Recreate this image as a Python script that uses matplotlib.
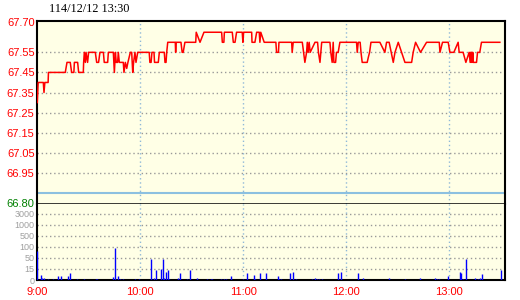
import matplotlib
matplotlib.use('Agg')
import matplotlib.pyplot as plt
import numpy as np

# minutes after 9:00 and price at that point (step-like trace)
price_t = [0, 0.5, 3.5, 3.9, 4.4, 6.3, 6.5, 16.3, 17.3, 19.2, 20.0, 21.3, 21.6, 23.5, 24.1, 26.8,
           27.0, 27.4, 28.0, 28.4, 29.3, 29.9, 33.8, 34.6, 35.7, 36.5, 38.5, 39.0, 41.0, 41.4,
           44.3, 44.9, 45.5, 46.0, 46.8, 47.2, 47.8, 50.1, 50.5, 51.3, 52.1, 52.8, 54.2, 55.0,
           55.6, 56.1, 56.9, 57.5, 58.5, 59.1, 65.2, 65.6, 66.3, 66.8, 68.0, 68.3, 70.5, 71.1,
           74.0, 74.4, 75.0, 75.4, 76.0, 80.4, 80.6, 80.9, 83.7, 84.4, 85.0, 86.0, 92.3, 92.6,
           94.8, 97.1, 107.4, 107.8, 108.7, 109.0, 113.6, 114.2, 115.2, 116.1, 119.4, 119.8,
           120.2, 124.9, 125.1, 126.8, 127.8, 129.3, 129.7, 130.2, 132.2, 139.0, 139.4, 140.5,
           140.8, 148.2, 148.5, 149.1, 154.4, 155.9, 156.9, 157.3, 157.8, 158.4, 159.0, 161.8,
           163.3, 163.8, 164.7, 165.2, 165.7, 170.5, 171.0, 171.8, 172.1, 172.4, 172.8, 173.8,
           174.3, 175.3, 176.3, 186.0, 186.4, 187.0, 188.1, 188.6, 189.3, 192.2, 193.0, 193.6,
           194.4, 199.6, 202.5, 203.5, 205.0, 207.4, 208.4, 210.3, 214.2, 218.1, 219.0, 220.4,
           223.3, 226.8, 234.2, 234.6, 236.1, 239.4, 240.4, 242.7, 245.2, 245.8, 248.1, 249.7,
           251.6, 252.2, 252.5, 252.8, 253.1, 253.4, 253.7, 254.0, 255.9, 256.5, 257.8, 258.8,
           269.5]
price_v = [67.30, 67.40, 67.40, 67.35, 67.40, 67.40, 67.45, 67.45, 67.50, 67.50, 67.45, 67.45, 67.50, 67.50, 67.45, 67.45,
           67.50, 67.55, 67.50, 67.55, 67.50, 67.55, 67.55, 67.50, 67.50, 67.55, 67.55, 67.50, 67.50, 67.55,
           67.55, 67.45, 67.55, 67.50, 67.50, 67.55, 67.50, 67.50, 67.45, 67.50, 67.47, 67.50, 67.55, 67.55,
           67.45, 67.50, 67.55, 67.50, 67.55, 67.55, 67.55, 67.50, 67.50, 67.55, 67.55, 67.50, 67.50, 67.55,
           67.55, 67.50, 67.50, 67.55, 67.60, 67.60, 67.55, 67.60, 67.60, 67.55, 67.55, 67.60, 67.60, 67.65,
           67.60, 67.65, 67.65, 67.60, 67.60, 67.65, 67.65, 67.60, 67.60, 67.65, 67.65, 67.60,
           67.65, 67.65, 67.60, 67.60, 67.65, 67.65, 67.60, 67.65, 67.60, 67.60, 67.55, 67.55,
           67.60, 67.60, 67.55, 67.60, 67.60, 67.50, 67.55, 67.60, 67.55, 67.60, 67.55, 67.60,
           67.60, 67.55, 67.50, 67.55, 67.60, 67.60, 67.55, 67.50, 67.55, 67.60, 67.50, 67.50,
           67.55, 67.55, 67.60, 67.60, 67.55, 67.60, 67.60, 67.55, 67.50, 67.50, 67.53, 67.55,
           67.60, 67.60, 67.55, 67.60, 67.60, 67.50, 67.55, 67.60, 67.50, 67.50, 67.55, 67.60,
           67.55, 67.60, 67.60, 67.55, 67.60, 67.60, 67.55, 67.55, 67.60, 67.55, 67.55, 67.50,
           67.55, 67.50, 67.55, 67.50, 67.55, 67.50, 67.55, 67.50, 67.50, 67.55, 67.55, 67.60,
           67.60]

vol_t = [0, 2, 3, 4, 6, 9, 12, 14, 18, 19, 23, 27, 34, 35, 44, 45, 47, 48, 50, 57, 59,
         66, 68, 69, 72, 73, 74, 75, 76, 77, 82, 83, 87, 89, 93, 99, 101, 102, 107, 109, 110,
         113, 120, 122, 126, 127, 130, 133, 140, 141, 142, 147, 149, 151, 160, 162, 163, 164,
         166, 175, 177, 187, 190, 205, 214, 223, 232, 233, 234, 239, 246, 247, 248, 250, 255,
         257, 258, 259, 270]
vol_v = [83, 7, 3, 3, 1, 1, 5, 5, 5, 9, 1, 1, 1, 1, 4, 95, 5, 2, 2, 1, 1,
         47, 3, 14, 16, 47, 3, 11, 14, 1, 3, 10, 1, 13, 3, 1, 1, 1, 1, 1, 1,
         5, 1, 10, 7, 1, 10, 10, 5, 1, 1, 10, 11, 1, 1, 3, 1, 1,
         1, 10, 11, 10, 3, 3, 1, 3, 3, 1, 1, 5, 11, 10, 1, 47, 3,
         1, 3, 8, 14]

hour_ticks = [0, 60, 120, 180, 240]
hour_labels = ['9:00', '10:00', '11:00', '12:00', '13:00']
price_ticks = [66.80, 66.95, 67.05, 67.15, 67.25, 67.35, 67.45, 67.55, 67.70]
price_grid = [66.95, 67.05, 67.15, 67.25, 67.35, 67.45, 67.55]
vol_levels = [0, 15, 50, 100, 500, 1000, 3000]

bg = '#ffffe6'
lvl_x = vol_levels + [6000]
lvl_i = list(range(len(lvl_x)))


def vfwd(v):
    return np.interp(v, lvl_x, lvl_i)


def vinv(i):
    return np.interp(i, lvl_i, lvl_x)


fig = plt.figure(figsize=(5.2, 3.0), dpi=100)
L, W = 37.3 / 520, (505 - 37.3) / 520
ax1 = fig.add_axes([L, 96 / 300, W, 183 / 300])
ax2 = fig.add_axes([L, 20 / 300, W, 76 / 300], sharex=ax1)

for ax in (ax1, ax2):
    ax.set_facecolor(bg)
    for h in hour_ticks[1:]:
        ax.axvline(h, color='#8fb8d8', lw=1, ls=(0, (1, 2)), zorder=1)
    for s in ax.spines.values():
        s.set_linewidth(1.5)
    ax.tick_params(length=0, pad=2)

# price panel
for g in price_grid:
    ax1.axhline(g, color='#999999', lw=1, ls=(0, (1, 2)), zorder=1)
ax1.axhline(66.85, color='#8cc0e0', lw=1.5, zorder=1)
ax1.plot(price_t, price_v, color='red', lw=1.1, zorder=3)
ax1.set_ylim(66.795, 67.706)
ax1.set_xlim(0, 272.5)
ax1.spines['bottom'].set_linewidth(1.8)
ax1.spines['bottom'].set_capstyle('butt')
ax1.set_yticks(price_ticks)
ax1.set_yticklabels(['%.2f' % p for p in price_ticks], fontfamily='Liberation Sans', fontsize=8)
for lab in ax1.get_yticklabels():
    lab.set_color('red')
ax1.get_yticklabels()[0].set_color('#008000')
ax1.tick_params(axis='x', labelbottom=False)

# volume panel
ax2.set_yscale('function', functions=(vfwd, vinv))
ax2.set_ylim(0, vinv(6.9))
for g in vol_levels[1:]:
    ax2.axhline(g, color='#999999', lw=1, ls=(0, (1, 2)), zorder=1)
ax2.vlines(vol_t, 0, vol_v, color='blue', lw=1.0, zorder=3)
ax2.spines['top'].set_visible(False)
ax2.set_yticks(vol_levels)
ax2.set_yticklabels([str(v) for v in vol_levels], fontfamily='Liberation Sans', fontsize=6.5, color='#a0a0a0')
ax2.yaxis.set_minor_locator(matplotlib.ticker.NullLocator())
ax2.set_xticks(hour_ticks)
ax2.set_xticklabels(hour_labels, fontfamily='Liberation Sans', fontsize=8, color='red')
ax2.tick_params(axis='x', pad=5)

fig.text(49 / 520, 1 - 9 / 300, '114/12/12 13:30', fontfamily='Liberation Serif', fontsize=8.8,
         ha='left', va='center')

fig.savefig('out.png', dpi=100)
